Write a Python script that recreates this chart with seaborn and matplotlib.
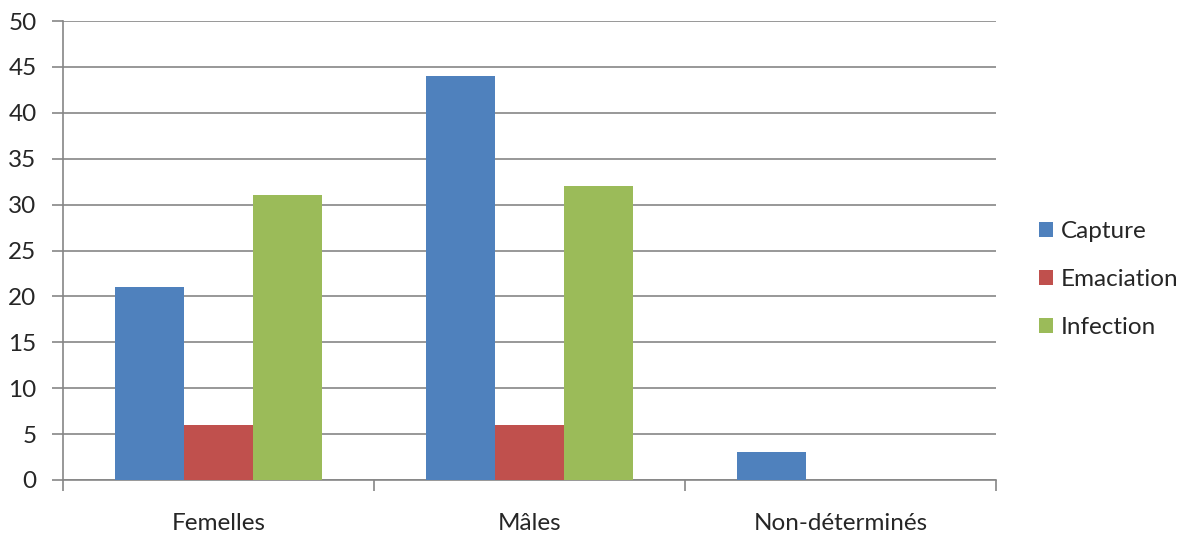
import pandas as pd
import matplotlib
matplotlib.use("Agg")
import matplotlib.pyplot as plt
import seaborn as sns

categories = ["Femelles", "Mâles", "Non-déterminés"]
series = ["Capture", "Emaciation", "Infection"]
capture = [21, 44, 3]
emaciation = [6, 6, 0]
infection = [31, 32, 0]
colors = ["#4F81BD", "#C0504D", "#9BBB59"]

rows = []
for i, cat in enumerate(categories):
    rows.append((cat, "Capture", capture[i]))
    rows.append((cat, "Emaciation", emaciation[i]))
    rows.append((cat, "Infection", infection[i]))
df = pd.DataFrame(rows, columns=["categorie", "cause", "valeur"])

sns.set_style("white")
plt.rcParams['font.family'] = ['Lato', 'DejaVu Sans']

fig = plt.figure(figsize=(11.88, 5.36), dpi=100)
ax = fig.add_axes([63 / 1188, 56 / 536, (996 - 63) / 1188, (480 - 21) / 536])

sns.barplot(data=df, x="categorie", y="valeur", hue="cause", order=categories,
            hue_order=series, palette=colors, saturation=1, width=0.667,
            linewidth=0, errorbar=None, ax=ax, zorder=3)

grid_col = "#868686"
fs = 17.5
ax.set_ylim(0, 50)
ax.set_xlim(-0.5, 2.5)
ax.set_yticks(range(0, 51, 5))
ax.yaxis.grid(True, color=grid_col, linewidth=1.2, zorder=0)
ax.set_axisbelow(True)
ax.set_xlabel("")
ax.set_ylabel("")

for side in ["top", "right"]:
    ax.spines[side].set_visible(False)
for side in ["left", "bottom"]:
    ax.spines[side].set_color(grid_col)
    ax.spines[side].set_linewidth(1.2)

ax.tick_params(axis="y", length=8, width=1.2, color=grid_col, labelsize=fs, pad=11,
               left=True)
ax.tick_params(axis="x", which="major", length=0, labelsize=fs, pad=24)
ax.set_xticks([-0.5, 0.5, 1.5, 2.5], minor=True)
ax.tick_params(axis="x", which="minor", length=8, width=1.2, color=grid_col,
               bottom=True)

handles, labels = ax.get_legend_handles_labels()
ax.legend(handles, labels, loc="center left", bbox_to_anchor=(1039 / 1188, 1 - 279.5 / 536),
          bbox_transform=fig.transFigure, frameon=False, fontsize=fs, borderpad=0,
          borderaxespad=0, handlelength=0.58, handleheight=0.58, handletextpad=0.3,
          labelspacing=1.12)

fig.savefig("out.png", dpi=100)
